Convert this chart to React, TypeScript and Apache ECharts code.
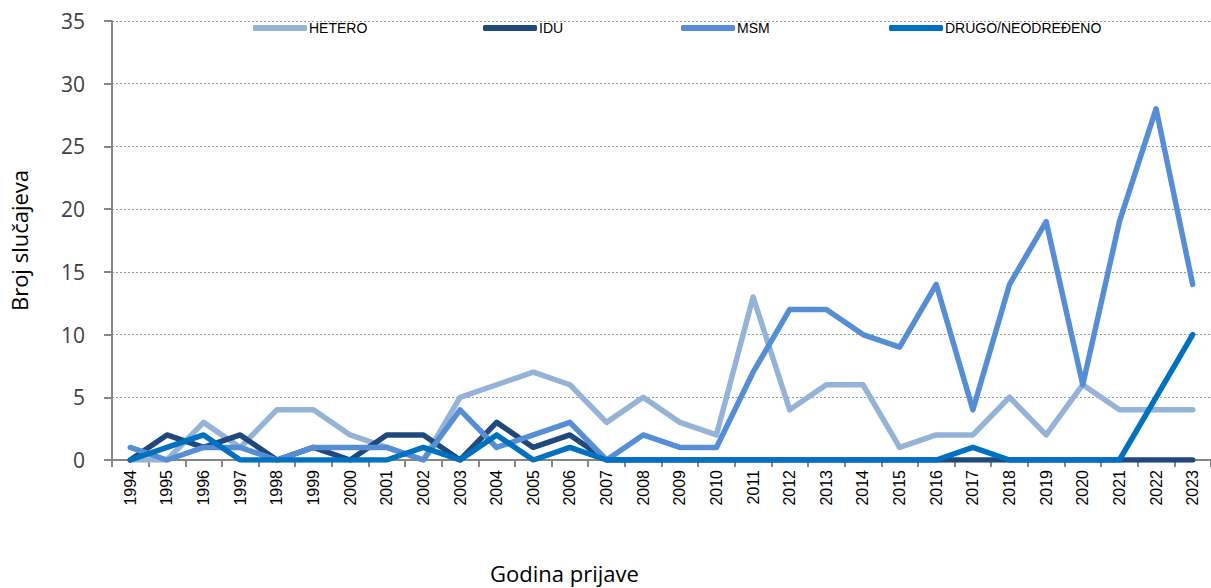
import React, { useEffect, useRef } from "react";
import * as echarts from "echarts";

const years = ["1994","1995","1996","1997","1998","1999","2000","2001","2002","2003","2004","2005","2006","2007","2008","2009","2010","2011","2012","2013","2014","2015","2016","2017","2018","2019","2020","2021","2022","2023"];
const hetero = [0,0,3,1,4,4,2,1,0,5,6,7,6,3,5,3,2,13,4,6,6,1,2,2,5,2,6,4,4,4];
const idu    = [0,2,1,2,0,1,0,2,2,0,3,1,2,0,0,0,0,0,0,0,0,0,0,0,0,0,0,0,0,0];
const msm    = [1,0,1,1,0,1,1,1,0,4,1,2,3,0,2,1,1,7,12,12,10,9,14,4,14,19,6,19,28,14];
const drugo  = [0,1,2,0,0,0,0,0,1,0,2,0,1,0,0,0,0,0,0,0,0,0,0,1,0,0,0,0,5,10];
const yTicks = [0, 5, 10, 15, 20, 25, 30, 35];

const names = ["HETERO", "IDU", "MSM", "DRUGO/NEODREĐENO"];
const colors = ["#95B3D7", "#1F497D", "#558ED5", "#0070C0"];
const legendLeft = [253, 483, 681, 889];

export default function App() {
  const ref = useRef<HTMLDivElement>(null);
  useEffect(() => {
    if (!ref.current) return;
    const chart = echarts.init(ref.current, null, { renderer: "svg" });
    const dataSets = [hetero, idu, msm, drugo];
    chart.setOption({
      animation: false,
      backgroundColor: "#ffffff",
      grid: { left: 107, right: -9, top: 21, bottom: 128, containLabel: false },
      legend: names.map((n, i) => ({
        data: [n],
        left: legendLeft[i],
        top: 21,
        itemWidth: 54,
        itemHeight: 6,
        itemGap: 4,
        icon: "roundRect",
        textStyle: { fontFamily: "Liberation Sans", fontSize: 14, color: "#000", padding: [0, 0, 0, -3] },
        padding: 0,
      })),
      xAxis: {
        type: "category",
        data: years,
        boundaryGap: true,
        axisLine: { lineStyle: { color: "#868686", width: 2 } },
        axisTick: { show: true, length: 7, lineStyle: { color: "#868686", width: 2 } },
        axisLabel: { rotate: 90, fontSize: 16, color: "#000", fontFamily: "Liberation Sans", margin: 10, interval: 0 },
      },
      yAxis: {
        type: "value",
        min: 0,
        max: 35,
        interval: 5,
        name: "Broj slučajeva",
        nameLocation: "middle",
        nameGap: 82,
        nameTextStyle: { fontSize: 22, color: "#000", fontFamily: "Open Sans" },
        axisLine: { show: true, lineStyle: { color: "#868686", width: 2 } },
        axisTick: { show: true, length: 8, inside: false, lineStyle: { color: "#868686", width: 2 } },
        axisLabel: {
          fontSize: 21, color: "#404040", fontFamily: "Open Sans", margin: 27,
          formatter: (v: number) => (yTicks.includes(v) ? String(v) : ""),
        },
        splitLine: { show: true, lineStyle: { color: "#9a9a9a", type: [2, 2], width: 1 } },
      },
      series: names.map((n, i) => ({
        name: n,
        type: "line",
        data: dataSets[i],
        symbol: "none",
        color: colors[i],
        lineStyle: { width: 5.5, color: colors[i], cap: "round", join: "round" },
      })),
      graphic: [
        {
          type: "text",
          left: 490,
          top: 562,
          style: { text: "Godina prijave", fontSize: 22, fill: "#000", fontFamily: "Open Sans" },
        },
      ],
    });
    return () => chart.dispose();
  }, []);
  return <div ref={ref} style={{ position: "absolute", left: 0, top: 0, width: 1211, height: 588 }} />;
}
